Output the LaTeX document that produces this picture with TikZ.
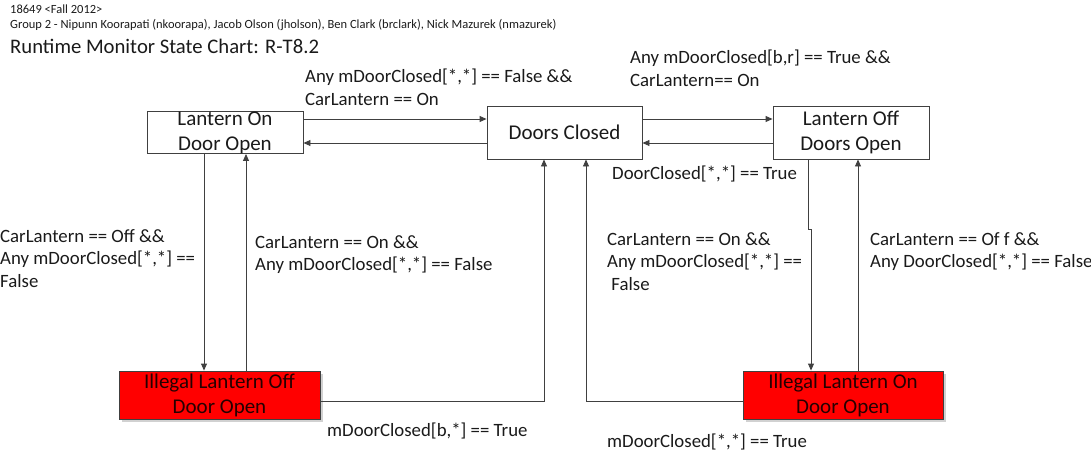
\documentclass[tikz,border=0pt]{standalone}
\usepackage{fontspec}
\setmainfont{Carlito}
\usetikzlibrary{arrows.meta,calc}
\definecolor{lc}{HTML}{404040}
\definecolor{txt}{HTML}{1A1A1A}
\tikzset{
  statebox/.style={draw=lc,line width=0.9pt,fill=white,inner sep=0pt,font=\fontsize{21}{25}\selectfont,align=center,text=txt},
  illegalbox/.style={statebox,fill=red,text=black!85!red,
     preaction={fill=black!18,transform canvas={xshift=3pt,yshift=-3pt}}},
  lbl/.style={anchor=north west,inner sep=0pt,align=left,text=txt,font=\fontsize{18.8}{22.5}\selectfont},
  arr/.style={draw=lc,line width=0.9pt,-{Triangle[length=7pt,width=6pt]}},
  hdr/.style={anchor=west,inner sep=0pt,text=txt}
}
\begin{document}
\begin{tikzpicture}[x=1pt,y=-1pt]
\useasboundingbox (0,0) rectangle (1091,455);
% header
\node[hdr,font=\fontsize{12.5}{14}\selectfont] (h1) at (10,9) {18649 <Fall 2012>};
\node[hdr,font=\fontsize{12.5}{14}\selectfont] (h2) at (10,25) {Group 2 - Nipunn Koorapati (nkoorapa), Jacob Olson (jholson), Ben Clark (brclark), Nick Mazurek (nmazurek)};
\node[hdr,font=\fontsize{20.7}{22}\selectfont] (h3) at (10,46) {Runtime Monitor State Chart: R-T8.2};
% states
\node[statebox,minimum width=156pt,minimum height=41pt] (LOn) at (225,132.5) {Lantern On\\Door Open};
\node[statebox,minimum width=155pt,minimum height=53pt] (DC) at (564.5,132.5) {Doors Closed};
\node[statebox,minimum width=156pt,minimum height=53pt] (LOff) at (851,132.5) {Lantern Off\\Doors Open};
\node[illegalbox,minimum width=201pt,minimum height=48pt] (IOff) at (219.5,395) {Illegal Lantern Off\\Door Open};
\node[illegalbox,minimum width=200pt,minimum height=48pt] (IOn) at (843,395) {Illegal Lantern On\\Door Open};
% connectors
\draw[arr] ([yshift=13.5pt]LOn.east) -- ([yshift=13.5pt]LOn.east -| DC.west);
\draw[arr] ([yshift=-10.5pt]DC.west) -- ([yshift=-10.5pt]DC.west -| LOn.east);
\draw[arr] ([yshift=13.5pt]DC.east) -- ([yshift=13.5pt]DC.east -| LOff.west);
\draw[arr] ([yshift=-10.5pt]LOff.west) -- ([yshift=-10.5pt]LOff.west -| DC.east);
\draw[arr] ([xshift=-21pt]LOn.south) -- ([xshift=-21pt]LOn.south |- IOff.north);
\draw[arr] ([xshift=26.5pt]IOff.north) -- ([xshift=26.5pt]IOff.north |- LOn.south);
\draw[arr] ([yshift=-6pt]IOff.east) -| ([xshift=-20.5pt]DC.south);
\draw[arr] ([yshift=-6pt]IOn.west) -| ([xshift=21.5pt]DC.south);
\coordinate (kink) at ($([xshift=-43pt]LOff.south)+(0,70)$);
\draw[arr] ([xshift=-43pt]LOff.south) -- (kink) -| ([xshift=-32pt]IOn.north);
\draw[arr] ([xshift=15pt]IOn.north) -- ([xshift=15pt]IOn.north |- LOff.south);
% labels
\node[lbl] (l1) at (305,69) {Any mDoorClosed[*,*] == False \&\&\\CarLantern == On};
\node[lbl] (l2) at (630,50) {Any mDoorClosed[b,r] == True \&\&\\CarLantern== On};
\node[lbl] (l3) at (612,166) {DoorClosed[*,*] == True};
\node[lbl] (l4) at (0,229) {CarLantern == Off \&\&\\Any mDoorClosed[*,*] ==\\False};
\node[lbl] (l5) at (255,235) {CarLantern == On \&\&\\Any mDoorClosed[*,*] == False};
\node[lbl] (l6) at (607,232) {CarLantern == On \&\&\\Any mDoorClosed[*,*] ==\\\ False};
\node[lbl] (l7) at (870,232) {CarLantern == Of f \&\&\\Any DoorClosed[*,*] == False};
\node[lbl] (l8) at (327,423) {mDoorClosed[b,*] == True};
\node[lbl] (l9) at (607,434) {mDoorClosed[*,*] == True};
\end{tikzpicture}
\end{document}
